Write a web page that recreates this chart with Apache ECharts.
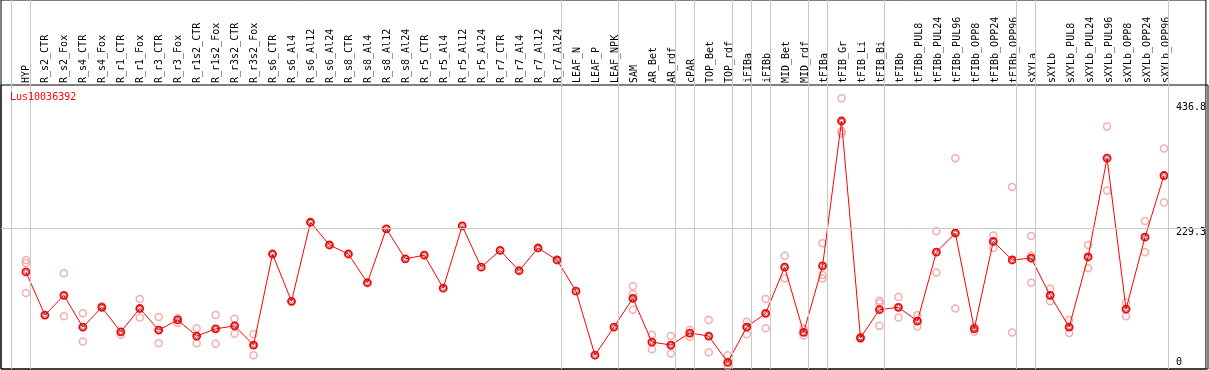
<!DOCTYPE html>
<html>
<head>
<meta charset="utf-8">
<script src="https://cdn.jsdelivr.net/npm/echarts@6/dist/echarts.min.js"></script>
<style>
  html, body { margin: 0; padding: 0; background: #fff; }
  #chart { width: 1209px; height: 370px; }
</style>
</head>
<body>
<div id="chart"></div>
<script>
// sample names (x categories)
const categories = [
  "HYP", "R_s2_CTR", "R_s2_Fox", "R_s4_CTR", "R_s4_Fox", "R_r1_CTR", "R_r1_Fox",
  "R_r3_CTR", "R_r3_Fox", "R_r1s2_CTR", "R_r1s2_Fox", "R_r3s2_CTR", "R_r3s2_Fox",
  "R_s6_CTR", "R_s6_Al4", "R_s6_Al12", "R_s6_Al24", "R_s8_CTR", "R_s8_Al4", "R_s8_Al12",
  "R_s8_Al24", "R_r5_CTR", "R_r5_Al4", "R_r5_Al12", "R_r5_Al24", "R_r7_CTR", "R_r7_Al4",
  "R_r7_Al12", "R_r7_Al24", "LEAF_N", "LEAF_P", "LEAF_NPK", "SAM", "AR_Bet", "AR_rdf",
  "cPAR", "TOP_Bet", "TOP_rdf", "iFIBa", "iFIBb", "MID_Bet", "MID_rdf", "tFIBa",
  "tFIB_Gr", "tFIB_Li", "tFIB_Bi", "tFIBb", "tFIBb_PUL8", "tFIBb_PUL24", "tFIBb_PUL96",
  "tFIBb_OPP8", "tFIBb_OPP24", "tFIBb_OPP96", "sXYLa", "sXYLb", "sXYLb_PUL8",
  "sXYLb_PUL24", "sXYLb_PUL96", "sXYLb_OPP8", "sXYLb_OPP24", "sXYLb_OPP96"
];

// mean expression
const meanVals = [
  157, 85, 118, 65, 98, 57, 96, 60, 77, 50, 62, 67, 35,
  187, 108, 240, 202, 187, 139, 229, 179, 185, 130, 234, 165, 193, 159, 197, 177,
  125, 18, 65, 113, 40, 35, 55, 50, 6, 65, 88, 165, 56, 167,
  409, 47, 94, 98, 75, 190, 222, 62, 208, 177, 180, 118, 65, 182, 347, 95, 215, 318
];

// replicates (null = none shown)
const rep1 = [
  177, null, 155, 88, 100, 52, 112, 82, 80, 63, 85, 79, 53,
  null, null, null, null, null, null, null, null, null, null, null, null, null, null, null, null,
  null, null, null, 133, 52, 50, 60, 77, 18, 74, 112, 184, 62, 205,
  447, 45, 109, 115, 85, 225, 347, 65, 218, 299, 217, 129, 77, 202, 400, 106, 242, 363
];
const rep2 = [
  172, null, 83, 41, null, null, 81, 38, 72, 38, 37, 54, 18,
  null, null, null, null, null, null, null, null, null, null, null, null, null, null, null, null,
  null, null, null, 120, 28, 21, 49, 23, 0, 53, 63, 146, 51, 152,
  392, 49, 105, 81, 66, 156, 96, 57, 197, 56, 184, 108, 55, 163, 293, 83, 190, 273
];
const rep3 = [
  122, null, null, null, null, null, null, null, null, null, null, null, null,
  null, null, null, null, null, null, null, null, null, null, null, null, null, null, null, null,
  null, null, null, 94, null, null, null, null, null, null, null, null, null, 146,
  388, null, 67, null, null, null, null, null, null, null, 139, null, null, null, null, null, null, null
];

const yLabels = [229.3, 436.8];
const yZeroLabel = [0];
const refLine = 229.3;
// vertical separators sit just after these sample indices
const groupEnds = [-1, 0, 28, 31, 34, 35, 37, 38, 39, 41, 42, 45, 52, 53, 60];

const mono = "DejaVu Sans Mono";
const chart = echarts.init(document.getElementById("chart"));

const toPts = (arr) => arr.map((v, i) => (v == null ? null : [i, v])).filter((p) => p);

const option = {
  animation: false,
  title: {
    text: "Lus10036392",
    left: 10,
    top: 92,
    padding: 0,
    textStyle: { color: "#ff0000", fontSize: 10, fontWeight: "normal", fontFamily: mono },
  },
  grid: [
    // whole frame, data lives here
    { left: 1, top: 0, width: 1207, height: 369, show: true, borderColor: "#000", borderWidth: 1 },
    // header labels
    { left: 26, top: 85, width: 1140, height: 200, show: false },
    // header / plot separator
    { left: 1, top: 85, width: 1207, height: 284, show: true, borderColor: "#000", borderWidth: 1 },
  ],
  xAxis: [
    {
      gridIndex: 0, type: "value", min: -1.3158, max: 62.2105, show: false,
    },
    {
      gridIndex: 1, type: "category", data: categories, boundaryGap: false, position: "top",
      axisLine: { show: false }, axisTick: { show: false }, splitLine: { show: false },
      axisLabel: { interval: 0, rotate: 90, margin: 2, color: "#000", fontSize: 10, fontFamily: mono },
    },
    { gridIndex: 2, type: "value", show: false },
  ],
  yAxis: [
    {
      gridIndex: 0, type: "value", min: -5, max: 611, position: "right",
      axisLine: { show: false }, axisTick: { show: false }, splitLine: { show: false },
      axisLabel: {
        customValues: yLabels, inside: true, margin: 30, align: "left", verticalAlign: "top",
        lineHeight: 7, color: "#000", fontSize: 10, fontFamily: mono,
      },
    },
    {
      gridIndex: 0, type: "value", min: -5, max: 611, position: "right",
      axisLine: { show: false }, axisTick: { show: false }, splitLine: { show: false },
      axisLabel: {
        customValues: yZeroLabel, inside: true, margin: 30, align: "left", verticalAlign: "bottom",
        lineHeight: 7, color: "#000", fontSize: 10, fontFamily: mono,
      },
    },
    { gridIndex: 1, type: "value", show: false },
    { gridIndex: 2, type: "value", show: false },
  ],
  series: [
    {
      // grid lines
      type: "line", xAxisIndex: 0, yAxisIndex: 0, data: [], z: 1, silent: true,
      markLine: {
        silent: true, symbol: "none", animation: false,
        label: { show: false },
        lineStyle: { color: "#c8c8c8", type: "solid", width: 1 },
        data: groupEnds.map((g) => ({ xAxis: g + 0.23 })).concat([{ yAxis: refLine }]),
      },
    },
    ...[rep1, rep2, rep3].map((r) => ({
      type: "scatter", xAxisIndex: 0, yAxisIndex: 0, z: 2,
      data: toPts(r), symbol: "circle", symbolSize: 7,
      itemStyle: { color: "rgba(0,0,0,0)", borderColor: "#f09a9a", borderWidth: 1.5 },
    })),
    {
      type: "line", xAxisIndex: 0, yAxisIndex: 0, z: 3,
      data: toPts(meanVals), symbol: "circle", symbolSize: 7, showAllSymbol: true,
      lineStyle: { color: "#ff0000", width: 1 },
      itemStyle: { color: "rgba(0,0,0,0)", borderColor: "#ff0000", borderWidth: 1.8 },
    },
    {
      type: "scatter", xAxisIndex: 0, yAxisIndex: 0, z: 4, silent: true,
      data: toPts(meanVals), symbol: "circle", symbolSize: 4,
      itemStyle: { color: "rgba(0,0,0,0)", borderColor: "#000", borderWidth: 1, opacity: 0.45 },
    },
  ],
};

chart.setOption(option);
</script>
</body>
</html>
